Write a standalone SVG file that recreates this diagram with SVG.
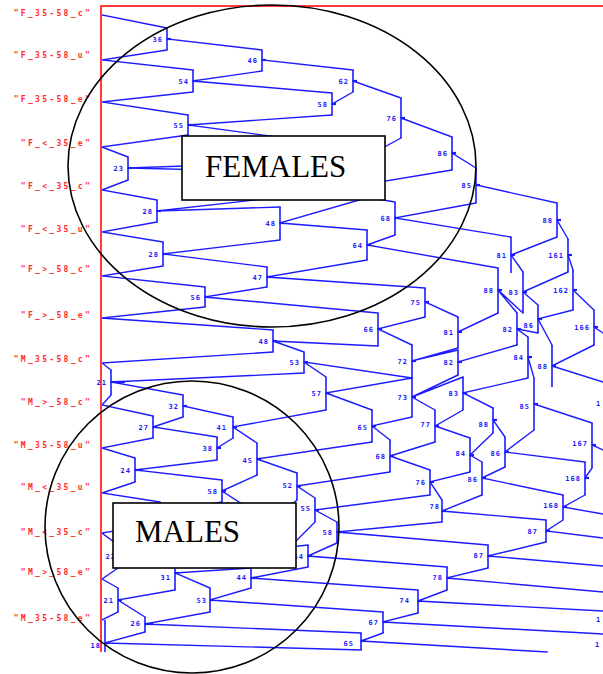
<svg xmlns="http://www.w3.org/2000/svg" width="603" height="674" viewBox="0 0 603 674">
<style>
.bg{fill:#fff}
.ln{stroke:#1c1cff;stroke-width:1.4;fill:none;stroke-linecap:square}
.bar{stroke:#1c1cff;stroke-width:1.6;fill:none}
.stub{stroke:#1c1cff;stroke-width:2.2;fill:none}
.nl{font-family:"DejaVu Sans Mono",monospace;font-weight:bold;font-size:7px;fill:#1a1aff;letter-spacing:1px;text-anchor:end}
.nls{font-family:"DejaVu Sans Mono",monospace;font-weight:bold;font-size:7px;fill:#1a1aff}
.lf{font-family:"DejaVu Sans Mono",monospace;font-weight:bold;font-size:8px;fill:#ff2a2a;letter-spacing:2.3px;text-anchor:end}
.axis{stroke:#ff3b3b;stroke-width:2;fill:none}
.ring{stroke:#000;stroke-width:1.6;fill:none}
.box{fill:#fff;stroke:#000;stroke-width:1.6}
.big{font-family:"Liberation Serif","Times New Roman",serif;font-size:31px;fill:#000}
</style>
<rect class="bg" width="603" height="674"/>

<!-- connectors: child junction to parent bar end -->
<g id="connectors" class="ln">
<path d="M102 15L167 28M102 60L167 50M102 60L193 70M102 102L193 92M102 102L188 115M102 147L188 135M102 147L128 157M102 190L128 180M102 190L157 200M102 232L157 222M102 232L163 242M102 276L163 266M102 276L205 287M102 318L205 307M102 318L273 330M102 363L273 352M102 363L111 370M102 405L111 395M102 405L153 416M102 448L153 438M102 448L135 458M102 493L135 482M102 493L160 502M102 533L160 524M102 533L118 545M102 579L118 568M102 579L118 588M102 620L118 612"/>
<path d="M167 39L262 50M193 81L262 71M193 81L332 93M188 125L332 115M188 125L300 140M128 168L300 162M128 168L290 172M157 211L290 196M157 211L280 207M163 254L280 240M163 254L267 267M205 297L267 287M205 297L378 313M273 341L378 346M273 341L304 352M111 382L304 373M111 382L183 395M153 427L183 417M153 427L217 437M135 470L217 460M135 470L222 480M160 513L222 502M160 513L250 530M118 556L250 556M118 556L175 556M118 600L175 590M118 600L145 617M105 643L145 632M105 643L361 650"/>
<path d="M262 60L353 70M332 104L353 92M300 151L375 164M300 151L380 170M290 184L395 202M280 223L380 194M280 223L367 230M267 277L367 260M267 277L425 288M304 362L412 378M304 362L326 377M183 406L233 417M217 448L233 438M222 491L257 475M222 491L290 535M250 543L297 500M250 543L290 560M290 547L315 522M290 547L308 545M175 573L251 568M175 573L210 588M145 624L210 612M145 624L361 633"/>
<path d="M353 81L401 98M375 152L401 138M380 182L452 170M367 245L395 235M367 245L498 268M378 329L425 317M378 329L412 345M326 393L412 378M326 393L372 410M233 427L326 410M233 427L257 443M257 459L372 442M257 459L297 473M297 486L390 472M297 486L315 498M251 578L308 567M251 578L418 590M210 600L251 588M210 600L383 612M361 641L383 633M361 641L547 652"/>
<path d="M401 118L452 137M395 218L476 203M395 218L511 237M425 302L458 317M412 361L458 348M412 361L458 350M412 397L458 375M412 397L435 410M412 397L463 377M372 426L412 417M372 426L390 440M390 456L435 442M390 456L430 470M315 510L430 495M315 510L337 522M308 556L337 543M308 556L447 567M418 601L603 611M383 622L418 613M383 622L603 634M418 601L447 590"/>
<path d="M452 153L476 168M511 255L557 237M511 255L523 272M458 332L498 313M498 290L523 313M498 290L517 313M458 362L517 345M463 393L528 378M463 393L493 408M435 426L463 410M435 426L470 438M430 482L470 472M430 482L442 500M337 532L442 522M337 532L488 545M447 578L488 568M447 578L603 592"/>
<path d="M476 185L557 203M557 220L568 239M523 292L568 272M523 292L538 305M517 329L538 333M517 329L528 337M528 357L534 378M493 420L505 437M470 455L493 433M470 455L482 462M442 511L482 495M442 511L546 520M488 556L546 542M488 556L603 566"/>
<path d="M568 255L573 270M538 319L573 310M538 319L552 345M505 452L534 430M505 452L585 462M482 478L505 467M482 478L563 495M546 531L563 520M546 531L603 538M534 404L592 423M552 366L594 345M552 366L603 382M573 290L594 310M585 478L592 468M563 507L585 495M563 507L603 514M594 327L603 333M592 445L603 450"/>
</g>

<!-- cluster nodes: bar, junction stub, index label -->
<g id="n36"><path class="bar" d="M167 28V50"/><path class="stub" d="M167 39h4"/><text class="nl" x="163" y="41.5">36</text></g>
<g id="n54"><path class="bar" d="M193 70V92"/><path class="stub" d="M193 81h4"/><text class="nl" x="189" y="83.5">54</text></g>
<g id="n55a"><path class="bar" d="M188 115V135"/><path class="stub" d="M188 125h4"/><text class="nl" x="184" y="127.5">55</text></g>
<g id="n23"><path class="bar" d="M128 157V180"/><path class="stub" d="M128 168h4"/><text class="nl" x="124" y="170.5">23</text></g>
<g id="n28a"><path class="bar" d="M157 200V222"/><path class="stub" d="M157 211h4"/><text class="nl" x="153" y="213.5">28</text></g>
<g id="n28b"><path class="bar" d="M163 242V266"/><path class="stub" d="M163 254h4"/><text class="nl" x="159" y="256.5">28</text></g>
<g id="n56"><path class="bar" d="M205 287V307"/><path class="stub" d="M205 297h4"/><text class="nl" x="201" y="299.5">56</text></g>
<g id="n48a"><path class="bar" d="M273 330V352"/><path class="stub" d="M273 341h4"/><text class="nl" x="269" y="343.5">48</text></g>
<g id="n21a"><path class="bar" d="M111 370V395"/><path class="stub" d="M111 382h14"/><text class="nl" x="107" y="385">21</text></g>
<g id="n27"><path class="bar" d="M153 416V438"/><path class="stub" d="M153 427h4"/><text class="nl" x="149" y="429.5">27</text></g>
<g id="n24"><path class="bar" d="M135 458V482"/><path class="stub" d="M135 470h8"/><text class="nl" x="131" y="472.5">24</text></g>
<g id="n22"><path class="bar" d="M118 545V568"/><text class="nl" x="116" y="559">22</text></g>
<g id="n21b"><path class="bar" d="M118 588V612"/><path class="stub" d="M118 600h4"/><text class="nl" x="114" y="602.5">21</text></g>
<g id="n18"><path class="bar" d="M105 620V652"/><path class="stub" d="M105 643h4"/><text class="nl" x="101" y="647.5">18</text></g>
<g id="n46"><path class="bar" d="M262 50V71"/><path class="stub" d="M262 60h4"/><text class="nl" x="258" y="63">46</text></g>
<g id="n58a"><path class="bar" d="M332 93V115"/><path class="stub" d="M332 104h4"/><text class="nl" x="328" y="106.5">58</text></g>
<g id="n48b"><path class="bar" d="M280 207V240"/><path class="stub" d="M280 223h4"/><text class="nl" x="276" y="226">48</text></g>
<g id="n47"><path class="bar" d="M267 267V287"/><path class="stub" d="M267 277h4"/><text class="nl" x="263" y="279.5">47</text></g>
<g id="n53a"><path class="bar" d="M304 352V373"/><path class="stub" d="M304 362h4"/><text class="nl" x="300" y="365">53</text></g>
<g id="n32"><path class="bar" d="M183 395V417"/><path class="stub" d="M183 406h4"/><text class="nl" x="179" y="408.5">32</text></g>
<g id="n38"><path class="bar" d="M217 437V460"/><path class="stub" d="M217 448h4"/><text class="nl" x="213" y="451">38</text></g>
<g id="n58b"><path class="bar" d="M222 480V502"/><path class="stub" d="M222 491h4"/><text class="nl" x="218" y="493.5">58</text></g>
<g id="n31"><path class="bar" d="M175 556V590"/><path class="stub" d="M175 573h4"/><text class="nl" x="171" y="580">31</text></g>
<g id="n26"><path class="bar" d="M145 617V632"/><path class="stub" d="M145 624h8"/><text class="nl" x="141" y="626">26</text></g>
<g id="n62"><path class="bar" d="M353 70V92"/><path class="stub" d="M353 81h4"/><text class="nl" x="349" y="83.5">62</text></g>
<g id="n76a"><path class="bar" d="M401 98V138"/><path class="stub" d="M401 118h4"/><text class="nl" x="397" y="120.5">76</text></g>
<g id="n86a"><path class="bar" d="M452 137V170"/><path class="stub" d="M452 153h4"/><text class="nl" x="448" y="156">86</text></g>
<g id="n85a"><path class="bar" d="M476 168V203"/><path class="stub" d="M476 185h4"/><text class="nl" x="472" y="188">85</text></g>
<g id="n68a"><path class="bar" d="M395 202V235"/><path class="stub" d="M395 218h4"/><text class="nl" x="391" y="221">68</text></g>
<g id="n64"><path class="bar" d="M367 230V260"/><path class="stub" d="M367 245h4"/><text class="nl" x="363" y="247.5">64</text></g>
<g id="n81a"><path class="bar" d="M511 237V273"/><path class="stub" d="M511 255h4"/><text class="nl" x="507" y="257.5">81</text></g>
<g id="n88a"><path class="bar" d="M557 203V237"/><path class="stub" d="M557 220h4"/><text class="nl" x="553" y="222.5">88</text></g>
<g id="n161"><path class="bar" d="M568 239V272"/><path class="stub" d="M568 255h4"/><text class="nl" x="564" y="258">161</text></g>
<g id="n88b"><path class="bar" d="M498 268V313"/><path class="stub" d="M498 290h4"/><text class="nl" x="494" y="293">88</text></g>
<g id="n83a"><path class="bar" d="M523 272V313"/><path class="stub" d="M523 292h4"/><text class="nl" x="519" y="295">83</text></g>
<g id="n162"><path class="bar" d="M573 270V310"/><path class="stub" d="M573 290h4"/><text class="nl" x="569" y="292.5">162</text></g>
<g id="n75"><path class="bar" d="M425 288V317"/><path class="stub" d="M425 302h4"/><text class="nl" x="421" y="305">75</text></g>
<g id="n66"><path class="bar" d="M378 313V346"/><path class="stub" d="M378 329h4"/><text class="nl" x="374" y="332">66</text></g>
<g id="n81b"><path class="bar" d="M458 317V348"/><path class="stub" d="M458 332h4"/><text class="nl" x="454" y="335">81</text></g>
<g id="n82a"><path class="bar" d="M517 313V345"/><path class="stub" d="M517 329h4"/><text class="nl" x="513" y="331.5">82</text></g>
<g id="n86e"><path class="bar" d="M538 305V333"/><path class="stub" d="M538 319h4"/><text class="nl" x="534" y="328">86</text></g>
<g id="n166"><path class="bar" d="M594 310V345"/><path class="stub" d="M594 327h4"/><text class="nl" x="590" y="330">166</text></g>
<g id="n72"><path class="bar" d="M412 345V378"/><path class="stub" d="M412 361h4"/><text class="nl" x="408" y="364">72</text></g>
<g id="n82b"><path class="bar" d="M458 350V375"/><path class="stub" d="M458 362h4"/><text class="nl" x="454" y="365">82</text></g>
<g id="n84a"><path class="bar" d="M528 337V378"/><path class="stub" d="M528 357h4"/><text class="nl" x="524" y="360">84</text></g>
<g id="n88c"><path class="bar" d="M552 345V387"/><path class="stub" d="M552 366h4"/><text class="nl" x="548" y="368.5">88</text></g>
<g id="n57"><path class="bar" d="M326 377V410"/><path class="stub" d="M326 393h4"/><text class="nl" x="322" y="396">57</text></g>
<g id="n73"><path class="bar" d="M412 378V417"/><path class="stub" d="M412 397h4"/><text class="nl" x="408" y="399.5">73</text></g>
<g id="n83b"><path class="bar" d="M463 377V410"/><path class="stub" d="M463 393h4"/><text class="nl" x="459" y="396">83</text></g>
<g id="n85b"><path class="bar" d="M534 378V430"/><path class="stub" d="M534 404h4"/><text class="nl" x="530" y="409">85</text></g>
<g id="n163"><text class="nls" x="596" y="406">1</text></g>
<g id="n41"><path class="bar" d="M233 417V438"/><path class="stub" d="M233 427h4"/><text class="nl" x="227" y="430">41</text></g>
<g id="n65a"><path class="bar" d="M372 410V442"/><path class="stub" d="M372 426h4"/><text class="nl" x="368" y="430">65</text></g>
<g id="n77"><path class="bar" d="M435 410V442"/><path class="stub" d="M435 426h4"/><text class="nl" x="431" y="427">77</text></g>
<g id="n88d"><path class="bar" d="M493 408V433"/><path class="stub" d="M493 420h4"/><text class="nl" x="489" y="427">88</text></g>
<g id="n167"><path class="bar" d="M592 423V468"/><path class="stub" d="M592 445h4"/><text class="nl" x="588" y="446">167</text></g>
<g id="n45"><path class="bar" d="M257 443V475"/><path class="stub" d="M257 459h4"/><text class="nl" x="253" y="463">45</text></g>
<g id="n68b"><path class="bar" d="M390 440V472"/><path class="stub" d="M390 456h4"/><text class="nl" x="386" y="459">68</text></g>
<g id="n84b"><path class="bar" d="M470 438V472"/><path class="stub" d="M470 455h4"/><text class="nl" x="466" y="456">84</text></g>
<g id="n86c"><path class="bar" d="M505 437V467"/><path class="stub" d="M505 452h4"/><text class="nl" x="501" y="456">86</text></g>
<g id="n52"><path class="bar" d="M297 473V500"/><path class="stub" d="M297 486h4"/><text class="nl" x="293" y="488">52</text></g>
<g id="n76b"><path class="bar" d="M430 470V495"/><path class="stub" d="M430 482h4"/><text class="nl" x="426" y="485">76</text></g>
<g id="n86d"><path class="bar" d="M482 462V495"/><path class="stub" d="M482 478h4"/><text class="nl" x="478" y="482">86</text></g>
<g id="n168a"><path class="bar" d="M585 462V495"/><path class="stub" d="M585 478h4"/><text class="nl" x="581" y="481">168</text></g>
<g id="n55b"><path class="bar" d="M315 498V522"/><path class="stub" d="M315 510h4"/><text class="nl" x="311" y="511">55</text></g>
<g id="n78a"><path class="bar" d="M442 500V522"/><path class="stub" d="M442 511h4"/><text class="nl" x="440" y="509">78</text></g>
<g id="n168b"><path class="bar" d="M563 495V520"/><path class="stub" d="M563 507h4"/><text class="nl" x="559" y="508">168</text></g>
<g id="n58c"><path class="bar" d="M337 522V543"/><path class="stub" d="M337 532h4"/><text class="nl" x="333" y="535">58</text></g>
<g id="n87a"><path class="bar" d="M546 520V542"/><path class="stub" d="M546 531h4"/><text class="nl" x="538" y="534">87</text></g>
<g id="n54b"><path class="bar" d="M308 545V567"/><path class="stub" d="M308 556h4"/><text class="nl" x="304" y="559">54</text></g>
<g id="n87b"><path class="bar" d="M488 545V568"/><path class="stub" d="M488 556h4"/><text class="nl" x="484" y="558">87</text></g>
<g id="n44"><path class="bar" d="M251 568V588"/><path class="stub" d="M251 578h4"/><text class="nl" x="247" y="580">44</text></g>
<g id="n78b"><path class="bar" d="M447 567V590"/><path class="stub" d="M447 578h4"/><text class="nl" x="443" y="580">78</text></g>
<g id="n53b"><path class="bar" d="M210 588V612"/><path class="stub" d="M210 600h4"/><text class="nl" x="207" y="602.5">53</text></g>
<g id="n74"><path class="bar" d="M418 590V613"/><path class="stub" d="M418 601h4"/><text class="nl" x="410" y="602.5">74</text></g>
<g id="n67"><path class="bar" d="M383 612V633"/><path class="stub" d="M383 622h4"/><text class="nl" x="379" y="624.5">67</text></g>
<g id="n65b"><path class="bar" d="M361 633V650"/><path class="stub" d="M361 641h4"/><text class="nl" x="354" y="645.5">65</text></g>
<g id="n169"><text class="nls" x="596" y="622">1</text></g>
<g id="n170"><text class="nls" x="595" y="647">1</text></g>

<!-- frame -->
<g id="frame" class="axis"><path d="M101 5V652"/><path d="M100 6H603"/></g>

<!-- object labels -->
<g id="leaves">
<text class="lf" x="92" y="16">"F_35-58_c"</text>
<text class="lf" x="92" y="58">"F_35-58_u"</text>
<text class="lf" x="92" y="102">"F_35-58_e"</text>
<text class="lf" x="92" y="146">"F_&lt;_35_e"</text>
<text class="lf" x="92" y="189">"F_&lt;_35_c"</text>
<text class="lf" x="92" y="232">"F_&lt;_35_u"</text>
<text class="lf" x="92" y="272">"F_&gt;_58_c"</text>
<text class="lf" x="92" y="318">"F_&gt;_58_e"</text>
<text class="lf" x="92" y="362">"M_35-58_c"</text>
<text class="lf" x="92" y="405">"M_&gt;_58_c"</text>
<text class="lf" x="92" y="448">"M_35-58_u"</text>
<text class="lf" x="92" y="490">"M_&lt;_35_u"</text>
<text class="lf" x="92" y="535">"M_&lt;_35_c"</text>
<text class="lf" x="92" y="575">"M_&gt;_58_e"</text>
<text class="lf" x="92" y="621">"M_35-58_e"</text>
</g>

<!-- group outlines -->
<g id="females">
<ellipse class="ring" cx="272" cy="166" rx="204" ry="161"/>
<rect class="box" x="182" y="136" width="203" height="64"/>
<text class="big" x="205" y="177">FEMALES</text>
</g>
<g id="males">
<ellipse class="ring" cx="192" cy="527" rx="147" ry="146"/>
<rect class="box" x="113" y="503" width="183" height="65"/>
<text class="big" x="135" y="542">MALES</text>
</g>
</svg>
